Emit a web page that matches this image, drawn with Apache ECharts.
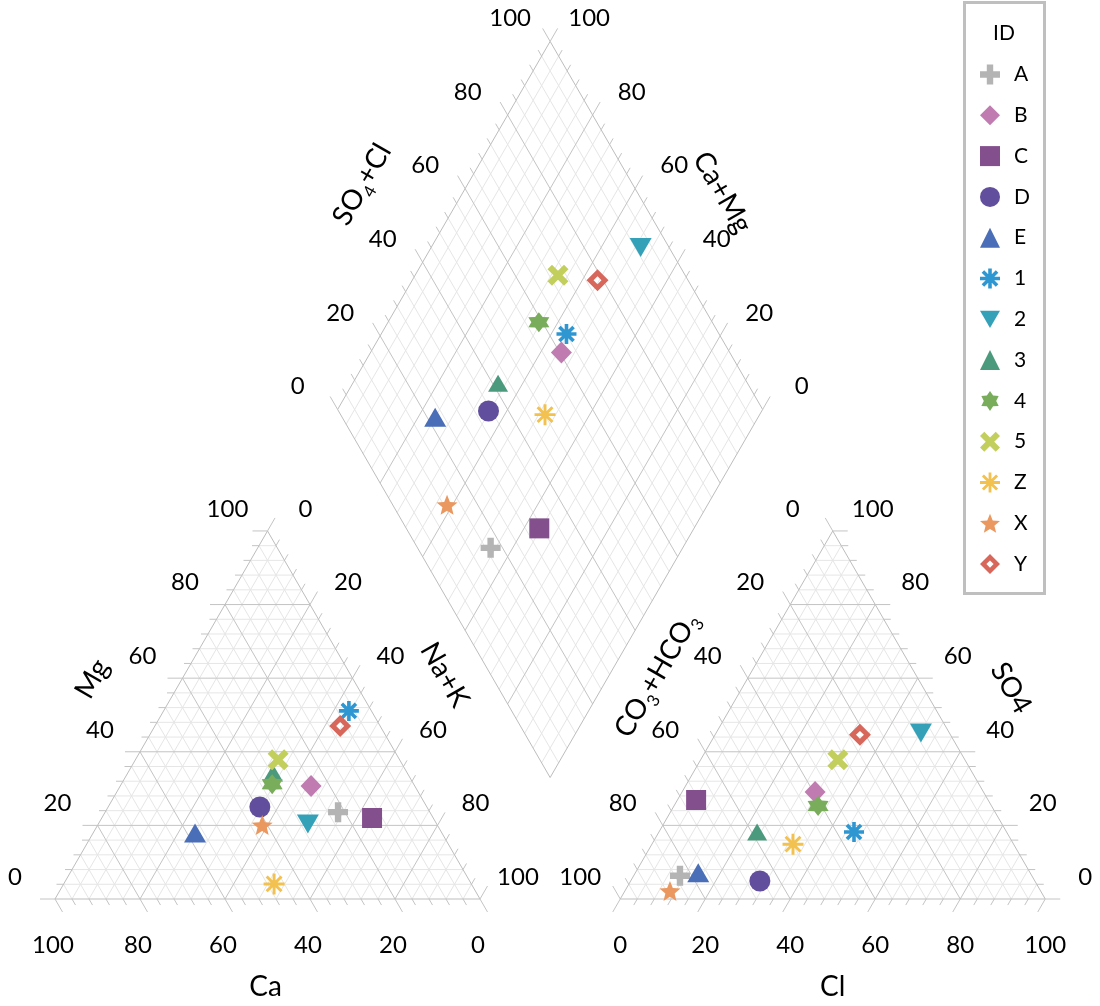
<!DOCTYPE html>
<html><head><meta charset="utf-8">
<script src="https://cdn.jsdelivr.net/npm/echarts@6/dist/echarts.min.js"></script>
<style>html,body{margin:0;padding:0;background:#fff}#c{width:1100px;height:1006px}</style>
</head><body><div id="c"></div>
<script>
// ---------------- data (percent) ----------------
const ids  = ['A','B','C','D','E','1','2','3','4','5','Z','X','Y'];
const ca   = [21.6,24.4,14.4,39.3,58.1, 5.3,30.3,31.6,33.3,28.6,46.4,41.2, 9.4];
const mg   = [23.6,30.7,22.0,25.0,17.9,51.1,20.4,34.2,31.2,37.8, 4.1,20.1,47.0];
const nak  = [54.8,44.9,63.6,35.7,24.0,43.6,49.3,34.2,35.5,33.6,49.5,38.7,43.6];
const hco3 = [82.8,39.6,68.7,64.7,78.1,35.9, 6.7,58.7,40.8,29.9,51.9,87.2,21.3];
const so4  = [ 6.3,29.1,26.9, 4.9, 7.1,18.2,45.1,18.2,25.3,37.8,14.9, 2.2,44.6];
const cl   = [10.9,31.3, 4.4,30.4,14.8,45.9,48.2,23.1,33.9,32.3,33.2,10.6,34.1];
const tickValues = [0,20,40,60,80,100];

// ---------------- geometry (diagram units, triangle side = 100) ----------------
const S3 = Math.sqrt(3)/2, H = 100*S3, GAP = 33;
const RX = 100 + GAP;
const BX = 100 + GAP/2, BY = (GAP/2)*Math.sqrt(3);
const LX = BX - 50, LY = BY + H;
function Lt(m, n){ return [50*m + 100*n, H*m]; }          // cations: m=Mg, n=Na+K
function Rt(s, c){ return [RX + 50*s + 100*c, H*s]; }     // anions: s=SO4, c=Cl
function Dm(n, s){ return [LX + 50*(s+n), LY + H*(s-n)]; } // diamond: n=Na+K, s=SO4+Cl

const SCALE = 4.25, OX = 55, OY = 899;
const XMIN = -OX/SCALE, XMAX = (1100-OX)/SCALE, YMIN = -(1006-OY)/SCALE, YMAX = OY/SCALE;

// grid segments
const segs = [];
function seg(p, q, k){ segs.push([p[0], p[1], q[0], q[1], k]); }
for (let i = 1; i < 25; i++){
  const f = i/25, k = (i % 5 === 0) ? 1 : 0;
  seg(Lt(f,0), Lt(f,1-f), k); seg(Lt(0,f), Lt(1-f,f), k); seg(Lt(1-f,0), Lt(0,1-f), k);
  seg(Rt(f,0), Rt(f,1-f), k); seg(Rt(0,f), Rt(1-f,f), k); seg(Rt(1-f,0), Rt(0,1-f), k);
  seg(Dm(f,0), Dm(f,1), k); seg(Dm(0,f), Dm(1,f), k);
}
// edges
seg(Lt(0,0),Lt(0,1),2); seg(Lt(0,1),Lt(1,0),2); seg(Lt(1,0),Lt(0,0),2);
seg(Rt(0,0),Rt(0,1),2); seg(Rt(0,1),Rt(1,0),2); seg(Rt(1,0),Rt(0,0),2);
seg(Dm(0,0),Dm(0,1),2); seg(Dm(0,1),Dm(1,1),2); seg(Dm(1,1),Dm(1,0),2); seg(Dm(1,0),Dm(0,0),2);
// ticks
const DR=[0.5,-S3], UL=[-0.5,S3], UR=[0.5,S3], DL=[-0.5,-S3], LF=[-1,0], RT=[1,0];
function tick(p, d, len){ seg(p, [p[0]+d[0]*len/SCALE, p[1]+d[1]*len/SCALE], 3); }
for (let i = 0; i <= 25; i++){
  const f = i/25, len = (i % 5 === 0) ? 15 : 7;
  tick(Lt(0,1-f), DR, len); tick(Lt(f,0), LF, len); tick(Lt(1-f,f), UR, len);
  tick(Rt(0,f), DL, len); tick(Rt(f,1-f), RT, len); tick(Rt(1-f,0), UL, len);
  tick(Dm(0,f), UL, len); tick(Dm(1-f,1), UR, len);
}
segs.sort((a,b)=>a[4]-b[4]);
const LINE_COL = ['#E6E6E6', '#C4C4C4', '#BDBDBD', '#C4C4C4'];

// ---------------- symbols ----------------
function fmt(p){ return p[0].toFixed(2)+','+p[1].toFixed(2); }
function barsPath(angles, hl, hw){
  let d = '';
  for (const a of angles){
    const r = a*Math.PI/180, c = Math.cos(r), s = Math.sin(r);
    const pts = [[-hl,-hw],[hl,-hw],[hl,hw],[-hl,hw]].map(([x,y]) => [50+x*c-y*s, 50+x*s+y*c]);
    d += 'M' + pts.map(fmt).join('L') + 'Z';
  }
  return d;
}
function starD(pn, ro, ri){
  let d = '';
  for (let i = 0; i < pn*2; i++){
    const r = i%2 === 0 ? ro : ri, a = i*Math.PI/pn;
    d += (i===0?'M':'L') + fmt([50 + r*Math.sin(a), 50 - r*Math.cos(a)]);
  }
  return d + 'Z';
}
const symbols = {
  'A': 'path://' + barsPath([0,90], 50, 16),
  'B': 'diamond',
  'C': 'rect',
  'D': 'circle',
  'E': 'triangle',
  '1': 'path://' + barsPath([0,45,90,135], 50, 9) + starD(8, 26, 24),
  '2': 'path://M0,0L100,0L50,86Z',
  '3': 'triangle',
  '4': 'path://' + starD(6, 50, 31),
  '5': 'path://' + barsPath([45,135], 55, 15),
  'Z': 'path://' + barsPath([0,45,90,135], 50, 7),
  'X': 'path://' + starD(5, 50, 22),
  'Y': 'path://M50,0L100,50L50,100L0,50Z M50,32L32,50L50,68L68,50Z'
};
const sizes = {'A':20,'B':[21,22],'C':20,'D':21,'E':[22,19],'1':20,'2':[22,19],'3':[20,17],
  '4':[21,20],'5':21,'Z':21,'X':[21,20],'Y':22};
const colors = {'A':'#B4B4B4','B':'#C07CB1','C':'#834F8D','D':'#614E9C','E':'#4A6EB7','1':'#2E96D0',
  '2':'#35A1B9','3':'#4B9A7D','4':'#79AD5B','5':'#C3CF5C','Z':'#F2C14F','X':'#EA985F','Y':'#D8675B'};

const scatterSeries = ids.map((id, i) => ({
  type: 'scatter', name: id, z: 5,
  symbol: symbols[id], symbolSize: sizes[id],
  itemStyle: { color: colors[id], opacity: 1 },
  data: [
    Lt(mg[i]/100, nak[i]/100),
    Rt(so4[i]/100, cl[i]/100),
    Dm(nak[i]/100, (so4[i] + cl[i])/100)
  ]
}));

const chart = echarts.init(document.getElementById('c'));
chart.setOption({
  animation: false,
  backgroundColor: '#fff',
  grid: { left: 0, right: 0, top: 0, bottom: 0 },
  xAxis: { type: 'value', min: XMIN, max: XMAX, show: false },
  yAxis: { type: 'value', min: YMIN, max: YMAX, show: false },
  legend: {
    orient: 'vertical', left: 980, top: 64, padding: 0,
    itemWidth: 20, itemHeight: 20, itemGap: 19.8, selectedMode: false,
    textStyle: { fontFamily: 'Lato', fontSize: 21, color: '#000', lineHeight: 19, padding: [0,0,0,9] },
    data: ids
  },
  series: [{
    type: 'custom', coordinateSystem: 'cartesian2d', silent: true, z: 1, clip: false,
    data: segs, encode: { x: [0,2], y: [1,3] },
    renderItem: (params, api) => {
      const p = api.coord([api.value(0), api.value(1)]);
      const q = api.coord([api.value(2), api.value(3)]);
      return { type: 'line', shape: { x1: p[0], y1: p[1], x2: q[0], y2: q[1] },
               style: { stroke: LINE_COL[api.value(4)], lineWidth: 1 } };
    }
  }].concat(scatterSeries)
});

// ---------------- texts ----------------
const toPx = p => chart.convertToPixel({ gridIndex: 0 }, p);
const FONT_T = '24px Lato', FONT_H = '28px Lato';
const graphics = [];
function txt(p, off, text, font, rot, rich){
  const px = toPx(p);
  const g = { type: 'text', x: px[0] + off[0], y: px[1] + off[1], rotation: rot || 0, silent: true,
    style: { text: text, font: font, fill: '#000', textAlign: 'center', textVerticalAlign: 'middle',
             align: 'center', verticalAlign: 'middle' } };
  if (rich) g.style.rich = rich;
  graphics.push(g);
}
tickValues.forEach(v => {
  const f = v/100, t = String(v);
  txt(Lt(0,1-f), [-2,46], t, FONT_T);        // Ca
  txt(Lt(f,0), [-40,-22], t, FONT_T);        // Mg
  txt(Lt(1-f,f), [38,-22], t, FONT_T);       // Na+K
  txt(Rt(0,f), [0,46], t, FONT_T);           // Cl
  txt(Rt(f,1-f), [40,-22], t, FONT_T);       // SO4
  txt(Rt(1-f,0), [-40,-22], t, FONT_T);      // CO3+HCO3
  txt(Dm(0,f), [-40,-23], t, FONT_T);        // SO4+Cl
  txt(Dm(1-f,1), [39,-23], t, FONT_T);       // Ca+Mg
});
const RICH = {
  a: { font: FONT_H, fill: '#000', lineHeight: 38, verticalAlign: 'middle' },
  b: { font: '17px Lato', fill: '#000', lineHeight: 38, verticalAlign: 'bottom' }
};
const R60 = Math.PI/3;
txt(Lt(0,0.5), [-2,88], 'Ca', FONT_H);
txt(Rt(0,0.5), [0,88], 'Cl', FONT_H);
txt(Lt(0.5,0), [-69,-36], 'Mg', FONT_H, R60);
txt(Lt(0.5,0.5), [71,-40], 'Na+K', FONT_H, -R60);
txt(Rt(0.5,0), [-70,-40], '{a|CO}{b|3}{a|+HCO}{b|3}', FONT_H, R60, RICH);
txt(Rt(0.5,0.5), [72,-27], 'SO4', FONT_H, -R60);
txt(Dm(0,0.5), [-82,-41], '{a|SO}{b|4}{a|+Cl}', FONT_H, R60, RICH);
txt(Dm(0.5,1), [66,-33], 'Ca+Mg', FONT_H, -R60);

// legend frame and title
graphics.push({ type: 'rect', silent: true, z: -1, shape: { x: 964.5, y: 2.5, width: 80, height: 591 },
  style: { fill: '#fff', stroke: '#BFBFBF', lineWidth: 3 } });
graphics.push({ type: 'text', silent: true, x: 1004, y: 33,
  style: { text: 'ID', font: '21px Lato', fill: '#000', textAlign: 'center', textVerticalAlign: 'middle', align: 'center', verticalAlign: 'middle' } });

chart.setOption({ graphic: graphics });
</script>
</body></html>
